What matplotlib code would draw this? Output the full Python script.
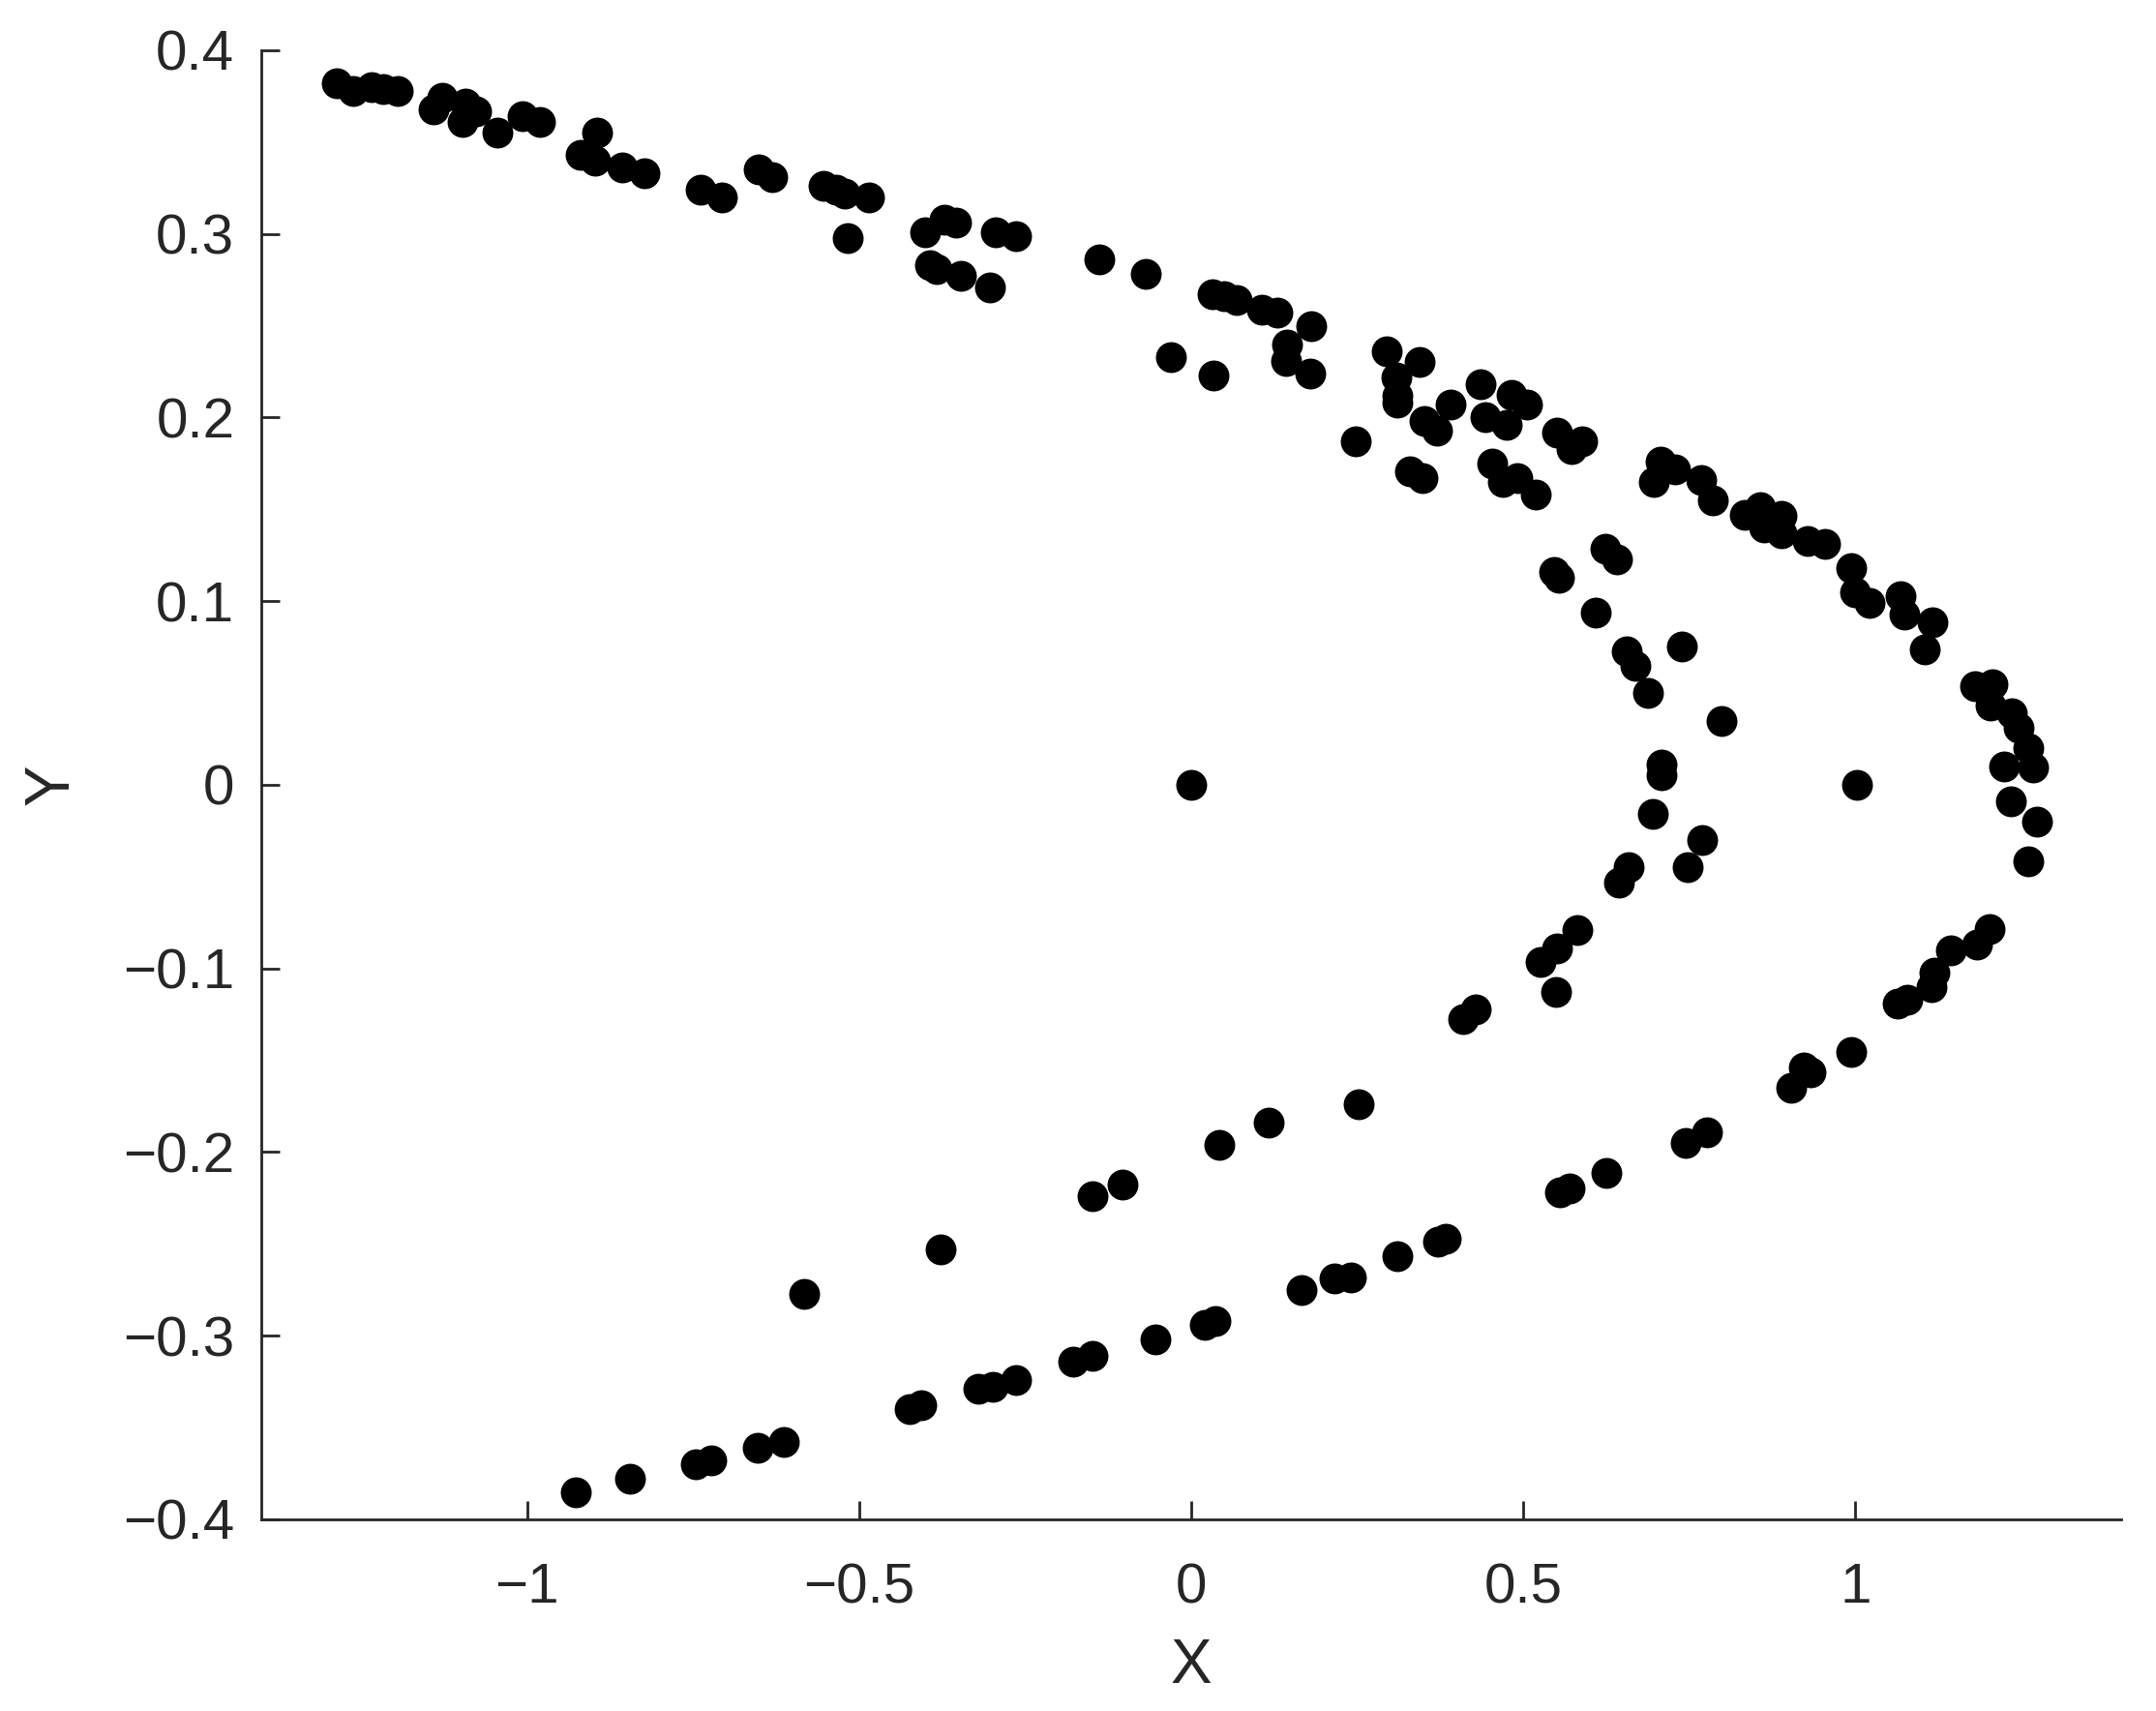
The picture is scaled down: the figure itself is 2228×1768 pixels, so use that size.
import matplotlib
matplotlib.use("Agg")
import matplotlib.pyplot as plt
import numpy as np

plt.rcParams['font.family'] = ['Liberation Sans', 'DejaVu Sans']

# point cloud (x, y)
x_vals = [
    -1.286, -1.261, -1.234, -1.217, -1.194, -1.140, -1.128, -1.093, -1.077, -1.097,
    -1.045, -1.006, -0.980, -0.894, -0.919, -0.898, -0.856, -0.823, -0.739, -0.706,
    -0.651, -0.631, -0.553, -0.535, -0.521, -0.485, -0.517,
    -0.400, -0.371, -0.354, -0.294, -0.264, -0.393, -0.383, -0.346, -0.303,
    -0.139, -0.068, 0.032, 0.050, 0.068, 0.107, 0.129, 0.181, 0.144, 0.143,
    0.179, -0.030, 0.033,
    0.295, 0.344, 0.309, 0.310, 0.310, 0.391, 0.351, 0.370, 0.436, 0.483,
    0.505, 0.443, 0.475, 0.247, 0.329, 0.348, 0.551, 0.589, 0.573, 0.453,
    0.469, 0.491, 0.518, 0.706, 0.728, 0.697, 0.768, 0.786, 0.834, 0.856,
    0.889, 0.863, 0.889, 0.928, 0.954, 0.994, 0.999, 1.021, 1.068, 1.074,
    0.624, 0.641, 0.546, 0.553,
    0.609, 0.655, 0.669, 0.688, 0.739, 0.798, 0.708, 0.708, 0.695, 0.770,
    0.747, 0.659, 0.644, 0.581, 0.551, 0.526, 0.549, 1.002, 1.116, 1.105,
    1.180, 1.206, 1.203, 1.236, 1.245, 1.261, 1.268, 1.224, 1.234, 1.274,
    1.261, 1.202, 1.183, 1.144, 1.119, 1.114, 1.078, 1.063,
    0.428, 0.409, 0.252, 0.993, 0.933, 0.922, 0.904, 0.777, 0.745, 0.625,
    0.569, 0.555, 0.383, 0.372, 0.310, 0.240, 0.215, 0.166,
    -0.926, -0.845, -0.746, -0.723, -0.653, -0.614, -0.582, -0.377, -0.424, -0.407,
    -0.321, -0.298, -0.264, -0.177, -0.149, -0.054, 0.020, 0.037, -0.149, -0.103,
    0.043, 0.116, 0.0,
]
y_vals = [
    0.382, 0.378, 0.380, 0.379, 0.378, 0.368, 0.374, 0.371, 0.367, 0.361,
    0.355, 0.364, 0.361, 0.355, 0.343, 0.340, 0.336, 0.333, 0.324, 0.320,
    0.335, 0.331, 0.326, 0.324, 0.322, 0.320, 0.298,
    0.301, 0.308, 0.306, 0.301, 0.299, 0.283, 0.281, 0.277, 0.271,
    0.286, 0.278, 0.267, 0.266, 0.264, 0.2585, 0.257, 0.250, 0.240, 0.231,
    0.224, 0.233, 0.223,
    0.236, 0.2305, 0.222, 0.212, 0.208, 0.207, 0.198, 0.193, 0.218, 0.2125,
    0.207, 0.200, 0.196, 0.187, 0.171, 0.167, 0.192, 0.187, 0.1826, 0.175,
    0.165, 0.167, 0.158, 0.176, 0.172, 0.165, 0.166, 0.155, 0.147, 0.151,
    0.1465, 0.140, 0.137, 0.133, 0.131, 0.118, 0.105, 0.099, 0.1026, 0.093,
    0.1286, 0.1228, 0.116, 0.113,
    0.0936, 0.0726, 0.0649, 0.0499, 0.0756, 0.0348, 0.0112, 0.0051, -0.016, -0.030,
    -0.0446, -0.045, -0.053, -0.079, -0.089, -0.0965, -0.113, 0.0, 0.0886, 0.0736,
    0.054, 0.055, 0.043, 0.039, 0.031, 0.020, 0.0095, 0.0098, -0.009, -0.020,
    -0.0415, -0.0787, -0.087, -0.090, -0.102, -0.110, -0.117, -0.119,
    -0.1223, -0.1273, -0.174, -0.1457, -0.1566, -0.154, -0.165, -0.189, -0.195, -0.2116,
    -0.220, -0.222, -0.247, -0.249, -0.2567, -0.268, -0.2687, -0.275,
    -0.385, -0.378, -0.370, -0.368, -0.361, -0.358, -0.277, -0.253, -0.340, -0.338,
    -0.329, -0.328, -0.324, -0.314, -0.311, -0.302, -0.294, -0.292, -0.224, -0.2175,
    -0.196, -0.184, 0.0,
]

x_ticks = [-1, -0.5, 0, 0.5, 1]
x_tick_labels = ['\u22121', '\u22120.5', '0', '0.5', '1']
y_ticks = [-0.4, -0.3, -0.2, -0.1, 0, 0.1, 0.2, 0.3, 0.4]
y_tick_labels = ['\u22120.4', '\u22120.3', '\u22120.2', '\u22120.1', '0',
                 '0.1', '0.2', '0.3', '0.4']

text_col = '#262626'

fig = plt.figure(figsize=(11.14, 8.84), dpi=200)
ax = fig.add_axes([0.1212, 0.1120, 0.8626, 0.8586])

ax.scatter(x_vals, y_vals, s=132, c='black', linewidths=0)

ax.set_xlim(-1.4, 1.4)
ax.set_ylim(-0.4, 0.4)
ax.set_xticks(x_ticks)
ax.set_xticklabels(x_tick_labels)
ax.set_yticks(y_ticks)
ax.set_yticklabels(y_tick_labels)

for side in ['top', 'right']:
    ax.spines[side].set_visible(False)
for side in ['left', 'bottom']:
    ax.spines[side].set_color(text_col)
    ax.spines[side].set_linewidth(1.0)

ax.tick_params(axis='both', direction='in', length=7, width=1.0,
               color=text_col, labelcolor=text_col, labelsize=21)
ax.tick_params(axis='x', pad=16)
ax.tick_params(axis='y', pad=10)

ax.set_xlabel('X', fontsize=23, color=text_col, va='center')
ax.set_ylabel('Y', fontsize=23, color=text_col, va='center')
ax.xaxis.set_label_coords(0.5, -0.100)
ax.yaxis.set_label_coords(-0.1124, 0.5)

fig.savefig('out.png', dpi=200, facecolor='white')
